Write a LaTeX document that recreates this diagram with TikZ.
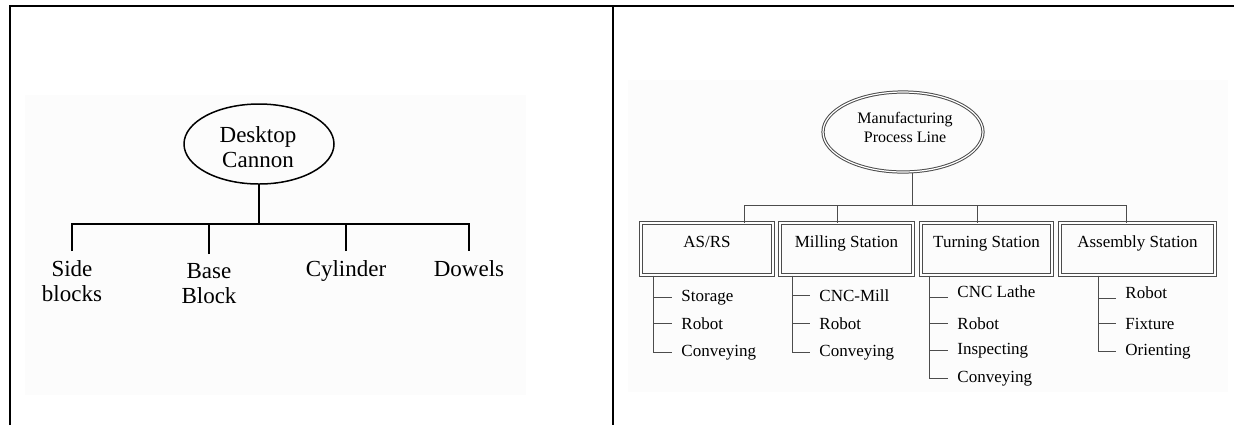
\documentclass[tikz,border=0pt]{standalone}
\usepackage{fontspec}
\setmainfont{Liberation Serif}
\usetikzlibrary{shapes.geometric}
\begin{document}
\begin{tikzpicture}[x=0.5pt,y=-0.5pt,
  frame/.style={line width=1pt},
  panelbg/.style={fill=black!1, draw=none},
  lline/.style={line width=0.75pt},
  rline/.style={line width=0.5pt, draw=black!70},
  lellipse/.style={ellipse, draw, line width=0.75pt, minimum width=75pt, minimum height=40pt, inner sep=0pt},
  ltext/.style={align=center, inner sep=0pt, font=\fontsize{11.5}{12.5}\selectfont},
  llabel/.style={anchor=north, align=center, inner xsep=0pt, inner ysep=4.5pt, font=\fontsize{11.5}{12.5}\selectfont},
  dbl/.style={draw=black!70, line width=0.5pt, double=white, double distance=0.6pt},
  rellipse/.style={ellipse, dbl, minimum width=80pt, minimum height=40pt, inner sep=0pt},
  rtext/.style={align=center, inner sep=0pt, font=\fontsize{8}{9.5}\selectfont},
  station/.style={rectangle, dbl, minimum height=26pt, inner sep=0pt},
  stlabel/.style={anchor=base, inner sep=0pt, font=\fontsize{8.5}{10}\selectfont},
  item/.style={anchor=base west, inner xsep=4.5pt, inner ysep=0pt, font=\fontsize{8.5}{10}\selectfont},
]
\useasboundingbox (0,0) rectangle (1234,425);
% panel backgrounds
\path[panelbg] (25,95) rectangle (526,395);
\path[panelbg] (628,80) rectangle (1228,392);
% frame
\draw[frame] (10,425) -- (10,6) -- (1234,6);
\draw[frame] (613,6) -- (613,425);

% ---------- left tree ----------
\node[lellipse] (dc) at (259,144) {};
\node[ltext] (dct) at (258,147.5) {Desktop\\Cannon};
\coordinate (lj) at (259,224);
\node[llabel] (side) at (72,251) {Side\\blocks};
\node[llabel] (base) at (209,254) {Base\\Block};
\node[llabel] (cyl) at (346,251) {Cylinder};
\node[llabel] (dow) at (469,251) {Dowels};
\draw[lline] (dc.south) -- (lj);
\draw[lline] (side.north) -- (side.north |- lj) -- (dow.north |- lj) -- (dow.north);
\draw[lline] (base.north) -- (base.north |- lj);
\draw[lline] (cyl.north) -- (cyl.north |- lj);

% ---------- right tree ----------
\node[rellipse] (mpl) at (903,132) {};
\node[rtext] (mplt) at (905,127) {Manufacturing\\Process Line};
\coordinate (rj) at (912,205);
\coordinate (d1) at (744,205);
\coordinate (d2) at (837,205);
\coordinate (d3) at (977,205);
\coordinate (d4) at (1126,205);

\node[station, minimum width=66pt] (asrs) at (707,249) {};
\node[station, minimum width=66.5pt] (mill) at (846.5,249) {};
\node[station, minimum width=65.5pt] (turn) at (986.5,249) {};
\node[station, minimum width=77.5pt] (asm) at (1137.5,249) {};
\node[stlabel] (asrsl) at (707,247) {AS/RS};
\node[stlabel] (milll) at (846.5,247) {Milling Station};
\node[stlabel] (turnl) at (986.5,247) {Turning Station};
\node[stlabel] (asml) at (1137.5,247) {Assembly Station};

\draw[rline] (mpl.south -| rj) -- (rj);
\draw[rline] (d1) -- (d4);
\draw[rline] (d1) -- (d1 |- asrs.north);
\draw[rline] (d2) -- (d2 |- mill.north);
\draw[rline] (d3) -- (d3 |- turn.north);
\draw[rline] (d4) -- (d4 |- asm.north);

% AS/RS items
\coordinate (t1) at (653,275);
\node[item] (a1) at (672,301) {Storage};
\node[item] (a2) at (672,329) {Robot};
\node[item] (a3) at (672,356) {Conveying};
\draw[rline] (asrs.south -| t1) |- (a3.west);
\draw[rline] (a1.west -| t1) -- (a1.west);
\draw[rline] (a2.west -| t1) -- (a2.west);

% Milling items
\coordinate (t2) at (792,275);
\node[item] (m1) at (810,301) {CNC-Mill};
\node[item] (m2) at (810,329) {Robot};
\node[item] (m3) at (810,356) {Conveying};
\draw[rline] (mill.south -| t2) |- (m3.west);
\draw[rline] (m1.west -| t2) -- (m1.west);
\draw[rline] (m2.west -| t2) -- (m2.west);

% Turning items
\coordinate (t3) at (929,275);
\node[item] (u1) at (948,297) {CNC Lathe};
\node[item] (u2) at (948,329) {Robot};
\node[item] (u3) at (948,354) {Inspecting};
\node[item] (u4) at (948,382) {Conveying};
\draw[rline] (turn.south -| t3) |- (u4.west);
\draw[rline] (u1.south west -| t3) -- (u1.south west);
\draw[rline] (u2.west -| t3) -- (u2.west);
\draw[rline] (u3.west -| t3) -- (u3.west);

% Assembly items
\coordinate (t4) at (1098,275);
\node[item] (s1) at (1116,298) {Robot};
\node[item] (s2) at (1116,329) {Fixture};
\node[item] (s3) at (1116,355) {Orienting};
\draw[rline] (asm.south -| t4) |- (s3.west);
\draw[rline] (s1.south west -| t4) -- (s1.south west);
\draw[rline] (s2.west -| t4) -- (s2.west);
\end{tikzpicture}
\end{document}
